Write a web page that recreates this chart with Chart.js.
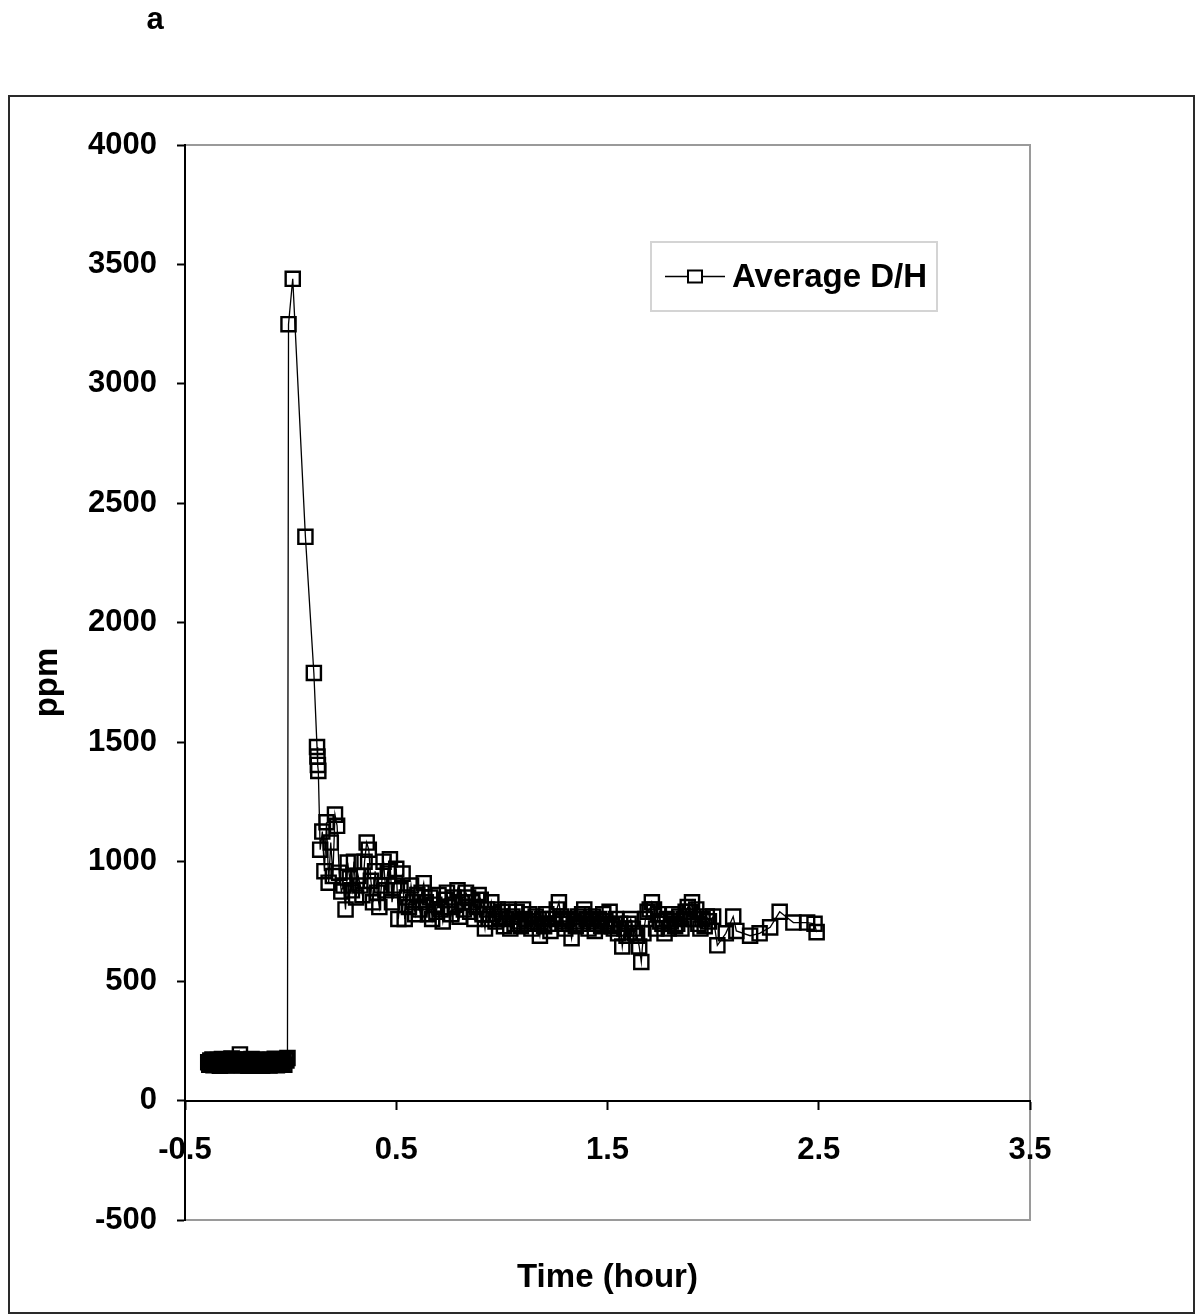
<!DOCTYPE html>
<html>
<head>
<meta charset="utf-8">
<script src="https://cdn.jsdelivr.net/npm/chart.js@4/dist/chart.umd.min.js"></script>
<style>
  html, body { margin: 0; padding: 0; background: #fff; }
  canvas { display: block; }
</style>
</head>
<body>
<canvas id="chart" width="1200" height="1316"></canvas>
<script>
// Baseline readings before the injection (hours, ppm)
const baseHours = [-0.390,-0.385,-0.380,-0.375,-0.370,-0.365,-0.360,-0.355,-0.350,-0.345,
  -0.340,-0.335,-0.330,-0.325,-0.320,-0.315,-0.310,-0.305,-0.300,-0.295,
  -0.290,-0.285,-0.280,-0.275,-0.270,-0.265,-0.260,-0.255,-0.250,-0.245,
  -0.240,-0.235,-0.230,-0.225,-0.220,-0.215,-0.210,-0.205,-0.200,-0.195,
  -0.190,-0.185,-0.180,-0.175,-0.170,-0.165,-0.160,-0.155,-0.150,-0.145,
  -0.140,-0.135,-0.130,-0.125,-0.120,-0.115,-0.110,-0.105,-0.100,-0.095,
  -0.090,-0.085,-0.080,-0.075,-0.070,-0.065,-0.060,-0.055,-0.050,-0.045,
  -0.040,-0.035,-0.030,-0.025,-0.020,-0.015];
const basePpm = [160,150,168,156,172,148,165,158,150,170,
  162,146,158,174,152,166,160,148,170,155,
  163,150,176,158,147,168,155,162,172,150,
  193,160,148,166,155,172,150,160,146,168,
  158,174,150,162,156,148,170,160,152,166,
  158,146,172,155,163,150,168,158,147,170,
  155,162,150,175,158,148,166,160,152,170,
  158,165,150,172,168,178];

// Peak and fast decay
const peakHours = [-0.01, 0.01, 0.07, 0.11, 0.125, 0.127, 0.129, 0.131];
const peakPpm   = [3250, 3440, 2360, 1790, 1480, 1440, 1405, 1380];

// Slow tail, dense logging
const tailHours = [0.14,0.15,0.16,0.17,0.18,0.19,0.20,0.21,0.22,0.23,0.24,0.25,0.26,0.27,0.28,0.29,
  0.30,0.31,0.32,0.33,0.34,0.35,0.36,0.37,0.38,0.39,0.40,0.41,0.42,0.43,0.44,0.45,0.46,0.47,0.48,0.49,
  0.50,0.51,0.52,0.53,0.54,0.55,0.56,0.57,0.58,0.59,0.60,0.61,0.62,0.63,0.64,0.65,0.66,0.67,0.68,0.69,
  0.70,0.71,0.72,0.73,0.74,0.75,0.76,0.77,0.78,0.79,0.80,0.81,0.82,0.83,0.84,0.85,0.86,0.87,0.88,0.89,
  0.90,0.91,0.92,0.93,0.94,0.95,0.96,0.97,0.98,0.99,
  1.00,1.01,1.02,1.03,1.04,1.05,1.06,1.07,1.08,1.09,
  1.10,1.11,1.12,1.13,1.14,1.15,1.16,1.17,1.18,1.19,
  1.20,1.21,1.22,1.23,1.24,1.25,1.26,1.27,1.28,1.29,
  1.30,1.31,1.32,1.33,1.34,1.35,1.36,1.37,1.38,1.39,
  1.40,1.41,1.42,1.43,1.44,1.45,1.46,1.47,1.48,1.49,
  1.50,1.51,1.52,1.53,1.54,1.55,1.56,1.57,1.58,1.59,
  1.60,1.61,1.62,1.63,1.64,1.65,1.66,1.67,1.68,1.69,
  1.70,1.71,1.72,1.73,1.74,1.75,1.76,1.77,1.78,1.79,
  1.80,1.81,1.82,1.83,1.84,1.85,1.86,1.87,1.88,1.89,
  1.90,1.91,1.92,1.93,1.94,1.95,1.96,1.97,1.98];
const tailPpm = [1050,1126,960,1165,912,1080,940,1197,1150,954,875,900,800,996,930,880,
  1000,850,940,900,860,1000,1080,1050,920,830,960,870,810,900,1000,880,960,1010,830,900,
  970,760,880,950,760,850,810,900,830,780,860,800,870,910,830,780,850,760,820,790,
  860,800,750,840,870,810,780,850,820,880,770,830,800,870,850,790,830,760,810,860,
  840,780,720,800,760,830,780,750,800,770,
  790,730,760,800,720,770,740,790,750,730,
  800,760,740,780,720,750,770,740,690,760,
  730,780,740,710,760,740,800,830,770,750,
  720,760,740,680,750,730,770,740,780,800,
  760,720,750,770,710,740,760,730,780,750,
  740,790,730,720,760,700,740,645,720,690,
  740,760,720,700,690,645,580,700,760,790,
  800,830,800,720,780,750,740,700,760,720,
  750,780,730,740,770,720,760,790,810,790,
  830,760,800,740,720,760,730,770,750];

// Final readings, sparser logging
const endHours = [2.0, 2.02, 2.06, 2.095, 2.11, 2.175, 2.22, 2.27, 2.315, 2.38, 2.445, 2.48, 2.49];
const endPpm   = [770, 650, 700, 770, 710, 690, 700, 725, 790, 745, 745, 740, 705];

const timeTicks = [-0.5, 0.5, 1.5, 2.5, 3.5];
const ppmTicks = [-500, 0, 500, 1000, 1500, 2000, 2500, 3000, 3500, 4000];
const seriesLabel = 'Average D/H';

const hours = baseHours.concat(peakHours, tailHours, endHours);
const ppm = basePpm.concat(peakPpm, tailPpm, endPpm);
const points = hours.map((h, i) => ({ x: h, y: ppm[i] }));

const FAMILY = '"Liberation Sans", Arial, Helvetica, sans-serif';
const tickFont = { family: FAMILY, size: 31, weight: 'bold' };
const titleFont = { family: FAMILY, size: 33, weight: 'bold' };

// Page frame, panel letter and the grey plot box
const framePlugin = {
  id: 'frame',
  beforeDraw(chart) {
    const { ctx, chartArea: a } = chart;
    ctx.save();
    ctx.fillStyle = '#fff';
    ctx.fillRect(0, 0, chart.width, chart.height);
    ctx.strokeStyle = '#2a2a2a';
    ctx.lineWidth = 2;
    ctx.strokeRect(9, 96, 1185, 1217);
    ctx.strokeStyle = '#9a9a9a';
    ctx.strokeRect(a.left, a.top, a.right - a.left, a.bottom - a.top);
    ctx.fillStyle = '#000';
    ctx.font = 'bold 31px ' + FAMILY;
    ctx.textAlign = 'center';
    ctx.textBaseline = 'middle';
    ctx.fillText('a', 155, 20);
    ctx.restore();
  }
};

// Boxed legend inside the plot area
const legendPlugin = {
  id: 'boxLegend',
  afterDraw(chart) {
    const { ctx } = chart;
    const ds = chart.data.datasets[0];
    const x = 651, y = 242, w = 286, h = 69, cy = y + h / 2;
    ctx.save();
    ctx.fillStyle = '#fff';
    ctx.fillRect(x, y, w, h);
    ctx.strokeStyle = '#d4d4d4';
    ctx.lineWidth = 2;
    ctx.strokeRect(x, y, w, h);
    ctx.strokeStyle = '#000';
    ctx.lineWidth = 1.5;
    ctx.beginPath();
    ctx.moveTo(665, cy);
    ctx.lineTo(725, cy);
    ctx.stroke();
    ctx.fillStyle = '#fff';
    ctx.fillRect(688, cy - 6, 14, 12);
    ctx.lineWidth = 2;
    ctx.strokeRect(688, cy - 6, 14, 12);
    ctx.fillStyle = '#000';
    ctx.font = 'bold 33px ' + FAMILY;
    ctx.textAlign = 'left';
    ctx.textBaseline = 'middle';
    ctx.fillText(ds.label, 732, cy + 1);
    ctx.restore();
  }
};

new Chart(document.getElementById('chart'), {
  type: 'line',
  data: {
    datasets: [{
      label: seriesLabel,
      data: points,
      borderColor: '#000',
      borderWidth: 1.3,
      tension: 0,
      fill: false,
      pointStyle: 'rect',
      pointRadius: 10,
      pointBorderWidth: 2.4,
      pointBorderColor: '#000',
      pointBackgroundColor: 'rgba(0,0,0,0)'
    }]
  },
  options: {
    responsive: false,
    animation: false,
    devicePixelRatio: 1,
    layout: { padding: { left: 20, right: 170, top: 145, bottom: 96 } },
    plugins: { legend: { display: false }, tooltip: { enabled: false } },
    scales: {
      x: {
        type: 'linear',
        position: { y: 0 },
        min: -0.5,
        max: 3.5,
        afterBuildTicks: s => { s.ticks = timeTicks.map(v => ({ value: v })); },
        afterFit: s => { s.height = 96; },
        ticks: {
          font: tickFont, color: '#000', padding: 23, maxRotation: 0,
          callback: v => String(v)
        },
        grid: { drawOnChartArea: false, color: '#000', tickLength: 8, tickWidth: 2 },
        border: { color: '#000', width: 2 },
        title: {
          display: true, text: 'Time (hour)', color: '#000',
          font: titleFont,
          padding: { top: 0, bottom: -101 }
        }
      },
      y: {
        type: 'linear',
        position: 'left',
        min: -500,
        max: 4000,
        afterBuildTicks: s => { s.ticks = ppmTicks.map(v => ({ value: v })); },
        afterFit: s => { s.width = 165; },
        ticks: {
          font: tickFont, color: '#000', padding: 20,
          callback: v => String(v)
        },
        grid: { drawOnChartArea: false, color: '#000', tickLength: 8, tickWidth: 2 },
        border: { color: '#000', width: 2 },
        title: {
          display: true, text: 'ppm', color: '#000',
          font: titleFont,
          padding: { top: 8, bottom: 0 }
        }
      }
    }
  },
  plugins: [framePlugin, legendPlugin]
});
</script>
</body>
</html>
